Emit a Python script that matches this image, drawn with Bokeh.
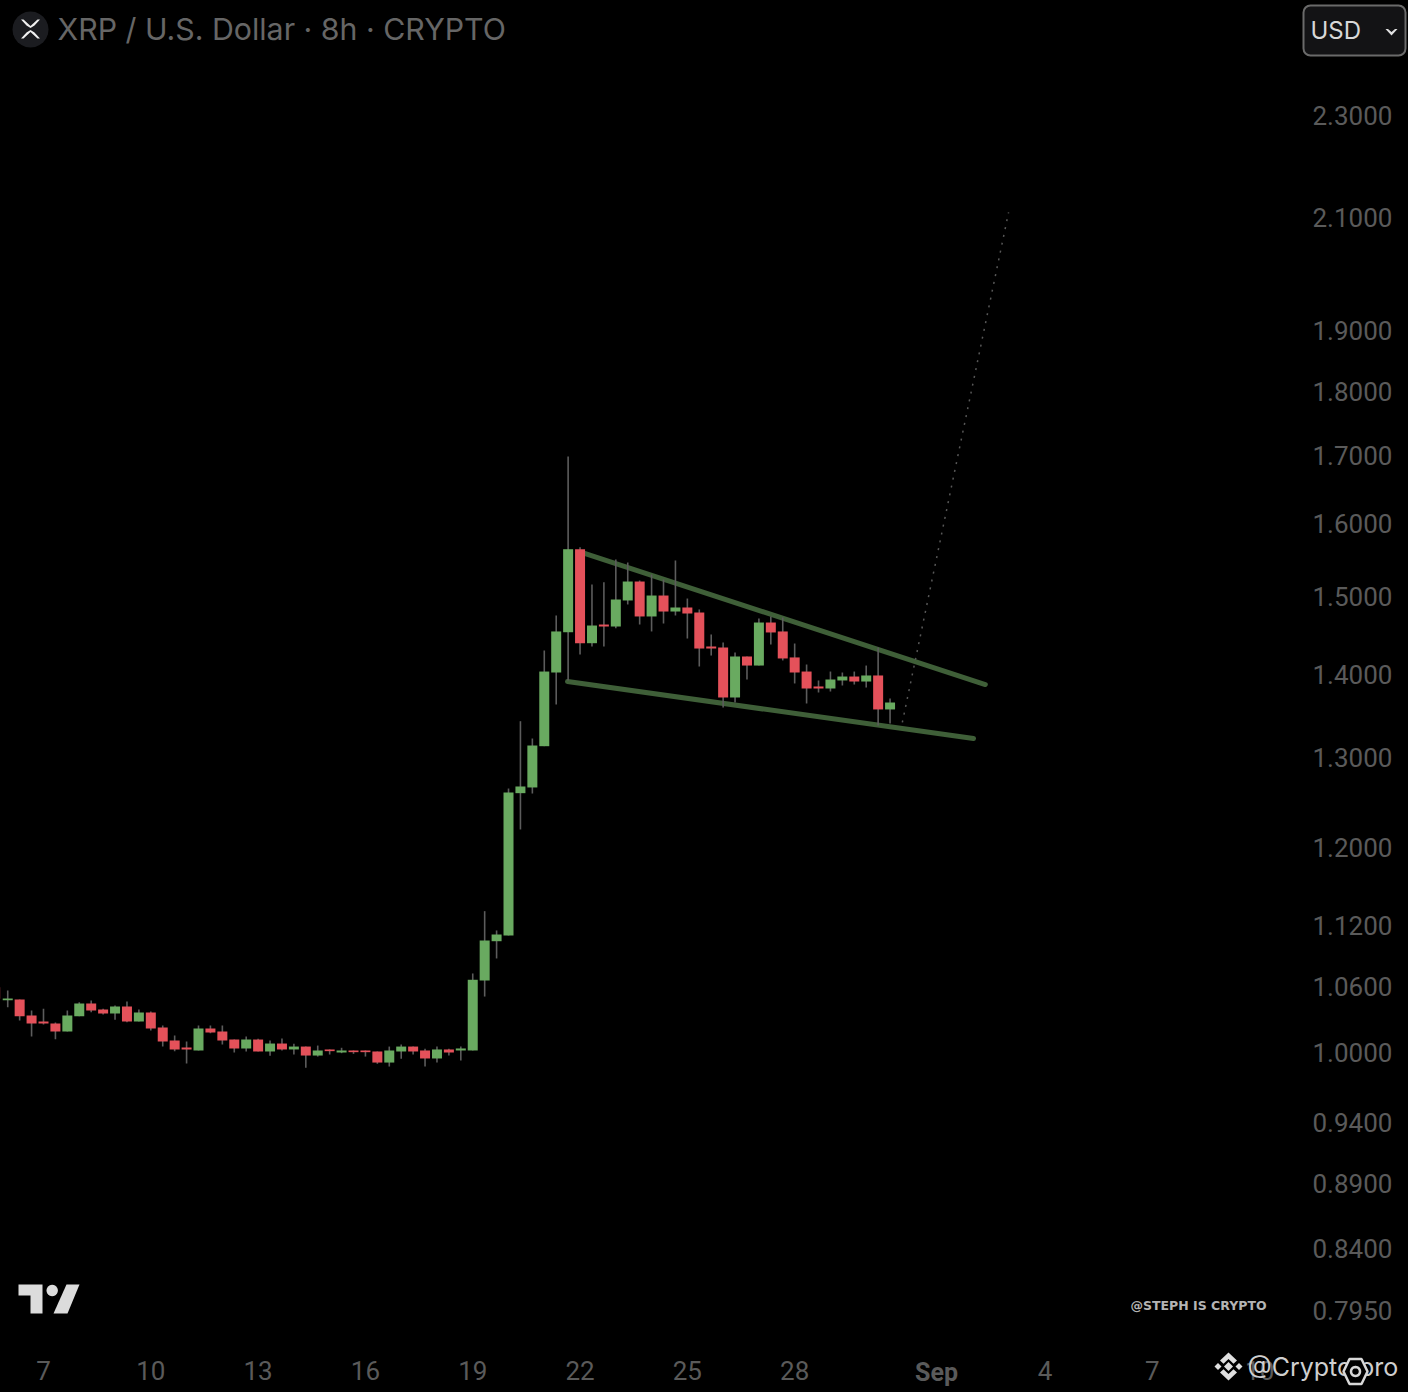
import math
from bokeh.plotting import figure
from bokeh.embed import file_html
from bokeh.resources import INLINE
from bokeh.models import (Range1d, FixedTicker, PrintfTickFormatter, Label,
                          BoxAnnotation, PolyAnnotation, ColumnDataSource)

# 8h candles, first candle index relative to Aug 7 00:00
first_index = -4
opens = [1.0598,1.0476,1.0483,1.0334,1.0279,1.0261,1.0189,1.0328,1.0445,1.0390,1.0353,1.0418,1.0279,1.0362,1.0225,1.0107,1.0044,1.0018,1.0216,1.0189,
         1.0116,1.0036,1.0116,1.0009,1.0080,1.0027,1.0053,0.9973,1.0027,1.0000,1.0018,1.0018,1.0009,0.9911,1.0009,1.0053,1.0018,0.9947,1.0027,1.0018,
         1.0018,1.0661,1.1040,1.1096,1.2593,1.2657,1.3130,1.4019,1.4530,1.5643,1.4389,1.4630,1.4604,1.4946,1.5200,1.4735,1.5012,1.4800,1.4853,1.4787,
         1.4347,1.4334,1.3711,1.4220,1.4106,1.4656,1.4540,1.4208,1.4031,1.3846,1.3821,1.3920,1.3969,1.3907,1.3982,1.3566]
highs = [1.0598,1.0567,1.0483,1.0380,1.0396,1.0270,1.0380,1.0457,1.0473,1.0396,1.0427,1.0464,1.0390,1.0371,1.0243,1.0152,1.0098,1.0243,1.0243,1.0243,
         1.0116,1.0143,1.0122,1.0107,1.0125,1.0078,1.0053,1.0062,1.0027,1.0042,1.0018,1.0018,1.0009,1.0053,1.0071,1.0053,1.0033,1.0053,1.0033,1.0053,
         1.0728,1.1339,1.1146,1.2645,1.3425,1.3220,1.4296,1.4748,1.6987,1.5671,1.5160,1.5191,1.5501,1.5459,1.5214,1.5295,1.5227,1.5487,1.4972,1.4827,
         1.4501,1.4398,1.4271,1.4220,1.4708,1.4735,1.4722,1.4385,1.4119,1.3920,1.4031,1.4019,1.4031,1.4106,1.4334,1.3699]
lows = [1.0480,1.0411,1.0289,1.0143,1.0252,1.0119,1.0189,1.0328,1.0365,1.0344,1.0295,1.0273,1.0279,1.0198,1.0053,1.0012,0.9903,1.0018,1.0173,1.0071,
        1.0000,1.0009,1.0009,0.9971,1.0018,0.9982,0.9865,0.9964,0.9982,0.9994,0.9988,0.9964,0.9900,0.9876,0.9944,0.9982,0.9876,0.9911,0.9973,0.9929,
        1.0018,1.0510,1.0872,1.1096,1.2193,1.2589,1.3130,1.3626,1.3920,1.4245,1.4347,1.4347,1.4582,1.4893,1.4630,1.4540,1.4643,1.4748,1.4449,1.4094,
        1.4232,1.3590,1.3650,1.3932,1.4106,1.4373,1.4170,1.3883,1.3638,1.3772,1.3784,1.3858,1.3870,1.3833,1.3374,1.3398]
closes = [1.0489,1.0492,1.0328,1.0261,1.0261,1.0189,1.0334,1.0445,1.0380,1.0353,1.0418,1.0279,1.0362,1.0216,1.0098,1.0027,1.0027,1.0216,1.0179,1.0107,
          1.0036,1.0116,1.0009,1.0080,1.0027,1.0053,0.9973,1.0018,1.0012,1.0018,1.0003,1.0003,0.9911,1.0018,1.0053,1.0009,0.9947,1.0027,1.0000,1.0036,
          1.0668,1.1047,1.1106,1.2600,1.2668,1.3138,1.4031,1.4540,1.5643,1.4389,1.4617,1.4604,1.4959,1.5200,1.4735,1.5012,1.4800,1.4853,1.4774,1.4321,
          1.4321,1.3711,1.4220,1.4106,1.4656,1.4527,1.4195,1.4019,1.3821,1.3821,1.3932,1.3969,1.3907,1.3982,1.3566,1.3650]

upper_days, upper_prices = [22.04, 33.33], [1.5598, 1.3870]
lower_days, lower_prices = [21.65, 33.00], [1.3907, 1.3220]
proj_days, proj_prices = [31.01, 33.98], [1.3410, 2.1103]

price_ticks = [2.3, 2.1, 1.9, 1.8, 1.7, 1.6, 1.5, 1.4, 1.3, 1.2, 1.12, 1.06, 1.0, 0.94, 0.89, 0.84, 0.795]
day_ticks = [7, 10, 13, 16, 19, 22, 25, 28, 32, 35, 38, 41]
day_labels = ["7", "10", "13", "16", "19", "22", "25", "28", "", "4", "7", "10"]

TITLE = "XRP / U.S. Dollar \u00b7 8h \u00b7 CRYPTO"

GREEN, RED, WICK = "#69aa60", "#e4515a", "#5c5c5c"
TREND = "#3f5f38"
AXIS_TEXT = "#5a5a5a"
FONT = "Inter"
AXIS_FONT = "Roboto"

# layout constants
W, H = 1408, 1392
AXIS_X_PX, AXIS_Y_PX = 1303, 1350
PX_PER_DAY = 35.77
PX_PER_DECADE = 2590.0
X0 = 7 - 43 / PX_PER_DAY
X1 = X0 + W / PX_PER_DAY


def dx(px):
    return X0 + px / PX_PER_DAY


def dy(py):
    return 10 ** ((1052 - py) / PX_PER_DECADE)


p = figure(width=W, height=H, output_backend="svg", toolbar_location=None,
           y_axis_type="log", y_axis_location="right",
           x_range=Range1d(X0, X1), y_range=Range1d(dy(H), dy(0)),
           background_fill_color="#000000", border_fill_color="#000000",
           outline_line_color=None, min_border_left=0, min_border_top=0,
           min_border_right=0, min_border_bottom=0)
p.grid.visible = False

p.yaxis.ticker = FixedTicker(ticks=price_ticks)
p.yaxis.formatter = PrintfTickFormatter(format="%.4f")
p.xaxis.ticker = FixedTicker(ticks=day_ticks)
p.xaxis.major_label_overrides = dict(zip(day_ticks, day_labels))
# axes sit inside the full-canvas frame so the overlays are not clipped
p.yaxis.fixed_location = dx(AXIS_X_PX)
p.xaxis.fixed_location = dy(AXIS_Y_PX)
for ax in (p.xaxis[0], p.yaxis[0]):
    ax.axis_line_color = None
    ax.major_tick_line_color = None
    ax.minor_tick_line_color = None
    ax.major_tick_out = 0
    ax.minor_tick_out = 0
    ax.major_label_text_color = AXIS_TEXT
    ax.major_label_text_font = AXIS_FONT
    ax.major_label_text_font_size = "26px"
p.yaxis.major_label_standoff = 9
p.xaxis.major_label_standoff = 10

# trend lines and projection
p.line(upper_days, upper_prices, line_color=TREND, line_width=5, line_cap="round")
p.line(lower_days, lower_prices, line_color=TREND, line_width=5, line_cap="round")
p.line(proj_days, proj_prices, line_color="#585858", line_width=1.5, line_dash="2 6")

# candles
days = [7 + (first_index + i) / 3 for i in range(len(opens))]
src = ColumnDataSource(dict(
    x=days, h=highs, l=lows,
    top=[max(o, c) for o, c in zip(opens, closes)],
    bottom=[min(o, c) for o, c in zip(opens, closes)],
    color=[GREEN if c >= o else RED for o, c in zip(opens, closes)],
))
p.segment("x", "h", "x", "l", source=src, line_color=WICK, line_width=1.6)
p.vbar("x", width=10 / PX_PER_DAY, top="top", bottom="bottom", source=src,
       fill_color="color", line_color=None)


def label(text, px, py, size, color, align="left", weight="normal", font=FONT):
    p.add_layout(Label(x=dx(px), y=dy(py), text=text, text_color=color,
                       text_font=font, text_font_size=f"{size}px", text_align=align,
                       text_baseline="middle", text_font_style=weight))


def poly(pts, fill, line=None, lw=1):
    p.add_layout(PolyAnnotation(xs=[dx(a) for a, _ in pts], ys=[dy(b) for _, b in pts],
                                fill_color=fill, fill_alpha=1.0 if fill else 0,
                                line_color=line, line_width=lw, line_alpha=1.0 if line else 0))


def ring(cx, cy, r, n=24):
    return [(cx + r * math.cos(2 * math.pi * k / n), cy + r * math.sin(2 * math.pi * k / n))
            for k in range(n)]


# Sep label (bold)
label("Sep", 936, 1372, 25, AXIS_TEXT, "center", "bold", AXIS_FONT)

# header
poly(ring(30, 29, 18), "#1b1c20")
poly([(20.5, 19), (23, 19), (30, 25.5), (37, 19), (39.5, 19), (34, 25), (30, 27.5), (26, 25)], "#f0f0f0")
poly([(20.5, 38), (23, 38), (30, 31.5), (37, 38), (39.5, 38), (34, 32), (30, 29.5), (26, 32)], "#f0f0f0")
label(TITLE, 57, 28, 30.3, "#666666")

# currency box
p.add_layout(BoxAnnotation(left=dx(1303), right=dx(1405), top=dy(5), bottom=dy(55),
                           fill_color="#131315", fill_alpha=1, line_color="#6a6a6a", line_alpha=1,
                           line_width=2, border_radius=7))
label("USD", 1310, 30, 24, "#d8d8d8")
poly([(1385, 28.5), (1387.5, 28.5), (1391, 31.5), (1394.5, 28.5), (1397, 28.5), (1391, 35)], "#e0e0e0")

# TradingView logo
poly([(18, 1284), (42, 1284), (42, 1313), (30, 1313), (30, 1295), (18, 1295)], "#dcdcdc")
poly(ring(51.7, 1290, 5.7), "#dcdcdc")
poly([(66, 1284), (79, 1284), (67, 1313), (53, 1313)], "#dcdcdc")

# watermarks
label("@STEPH IS CRYPTO", 1130, 1305, 12.5, "#b4b4b4", weight="bold", font="DejaVu Sans")
label("@Crypto pro", 1247, 1366, 25, "#cfcfcf")

# exchange mark
cx, cy = 1228, 1366
poly([(cx - 4.5, cy), (cx, cy - 4.5), (cx + 4.5, cy), (cx, cy + 4.5)], "#e0e0e0")
poly([(cx - 14, cy), (cx - 10.5, cy - 3.5), (cx - 7, cy), (cx - 10.5, cy + 3.5)], "#e0e0e0")
poly([(cx + 14, cy), (cx + 10.5, cy - 3.5), (cx + 7, cy), (cx + 10.5, cy + 3.5)], "#e0e0e0")
poly([(cx - 8.5, cy - 6), (cx, cy - 14), (cx + 8.5, cy - 6), (cx + 5, cy - 2.8), (cx, cy - 7.5), (cx - 5, cy - 2.8)], "#e0e0e0")
poly([(cx - 8.5, cy + 6), (cx, cy + 14), (cx + 8.5, cy + 6), (cx + 5, cy + 2.8), (cx, cy + 7.5), (cx - 5, cy + 2.8)], "#e0e0e0")

# hexagon mark over the handle
hx, hy = 1355, 1371
poly([(hx - 6, hy - 12.5), (hx + 6, hy - 12.5), (hx + 12, hy), (hx + 6, hy + 12.5), (hx - 6, hy + 12.5), (hx - 12, hy)],
     "#000000", "#d8d8d8", 2.5)
poly(ring(hx, hy, 4.5), None, "#d8d8d8", 2.5)

html = file_html(p, INLINE)
html = html.replace("</head>", "<style>html,body{margin:0;padding:0;background:#000;overflow:hidden}</style></head>", 1)
open("out.html", "w").write(html)
